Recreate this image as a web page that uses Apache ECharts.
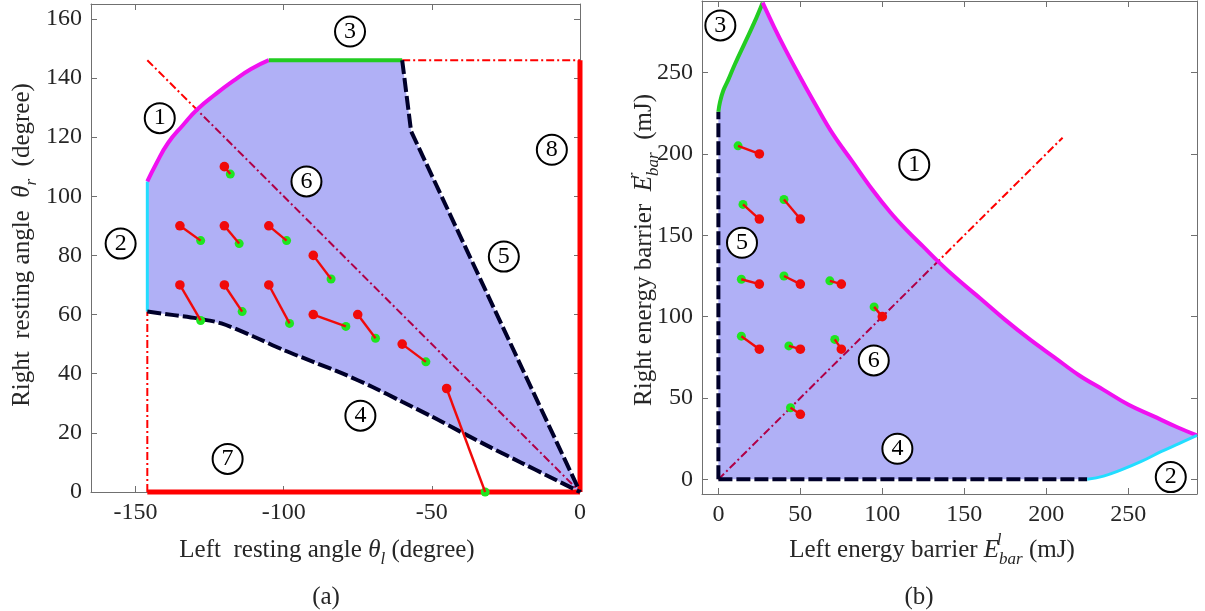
<!DOCTYPE html>
<html>
<head>
<meta charset="utf-8">
<title>resting angle / energy barrier</title>
<script src="https://cdn.jsdelivr.net/npm/echarts@6/dist/echarts.min.js"></script>
<style>
    html, body { margin: 0; padding: 0; background: #fff; }
    #main { width: 1205px; height: 611px; }
</style>
</head>
<body>
<div id="main"></div>
<script>
// ---------- (a) resting angles (degree) ----------
var aXTicks = [-150, -100, -50, 0];
var aYTicks = [0, 20, 40, 60, 80, 100, 120, 140, 160];
var aCurve1 = [[-146, 105], [-143, 111], [-139, 118], [-134, 124], [-129, 129.5], [-123, 134.5], [-117, 139], [-111, 143], [-105, 146]];
var aEdge2 = [[-146, 61], [-146, 105]];
var aEdge3 = [[-105, 146], [-60, 146]];
var aEdge5 = [[-60, 146], [-57, 122], [0, 0]];
var aEdge4 = [[-146, 61], [-137, 59.8], [-128, 58.5], [-121, 57], [-110, 52.5], [-100, 48], [-90, 44], [-80, 40], [-70, 35.5],
              [-60, 30.5], [-50, 25.5], [-40, 20.2], [-30, 15], [-20, 10], [-10, 5], [0, 0]];
var aDiag = [[-146, 146], [0, 0]];
var aFloor = [[-146, 0], [0, 0]];
var aWall = [[0, 0], [0, 146]];
var aCap = [[-60, 146], [0, 146]];
var aSide = [[-146, 0], [-146, 61]];
var aRed = [[-120, 110], [-135, 90], [-120, 90], [-105, 90], [-90, 80], [-135, 70], [-120, 70], [-105, 70], [-90, 60], [-75, 60], [-60, 50], [-45, 35]];
var aGreen = [[-118, 107.5], [-128, 85], [-115, 84], [-99, 85], [-84, 72], [-128, 58], [-114, 61], [-98, 57], [-79, 56], [-69, 52], [-52, 44], [-32, 0]];
var aMarks = [[-141.8, 126.4, '1'], [-155, 84, '2'], [-77.6, 155.7, '3'], [-74.1, 25.8, '4'], [-25.7, 79.6, '5'], [-92.3, 105, '6'], [-118.9, 11.2, '7'], [-9.5, 115.7, '8']];

// ---------- (b) energy barriers (mJ) ----------
var bXTicks = [0, 50, 100, 150, 200, 250];
var bYTicks = [0, 50, 100, 150, 200, 250];
var bCurve3 = [[0, 226], [1, 232], [3, 239], [6, 245.5], [10, 255], [16, 268], [22, 281], [27, 293]];
var bCurve1 = [[27, 293], [34, 278], [41, 264], [50, 247], [60, 229], [70, 212], [82, 195], [94, 178], [105, 164], [115, 153],
               [125, 143], [134, 134], [147, 122], [160, 111], [175, 98], [190, 86], [205, 75], [220, 64], [235, 55],
               [250, 46], [265, 39], [280, 32], [292, 27]];
var bCurve2 = [[225, 0], [235, 2], [245, 5.5], [258, 11], [270, 17], [281, 22], [292, 27]];
var bWall = [[0, 0], [0, 226]];
var bFloor = [[0, 0], [225, 0]];
var bDiag = [[0, 0], [210, 210]];
var bRed = [[25, 200], [25, 160], [50, 160], [25, 120], [50, 120], [75, 120], [100, 100], [25, 80], [50, 80], [75, 80], [50, 40]];
var bGreen = [[12, 205], [15, 169], [40, 172], [14, 123], [40, 125], [68, 122], [95, 106], [14, 88], [43, 82], [71, 86], [44, 44]];
var bMarks = [[119.5, 193.3, '1'], [276, 1.4, '2'], [1.2, 279, '3'], [109.2, 18.8, '4'], [14.4, 145.4, '5'], [94.8, 73.1, '6']];

var FONT = '"Liberation Serif", "Times New Roman", serif';
var AXIS_COLOR = '#707070';
var TEXT_COLOR = '#262626';
var FILL = 'rgba(0, 0, 225, 0.31)';
var NAVY = '#00002a';

// polygons of the shaded regions, built from the edges above
var aFill = aEdge2.concat(aCurve1.slice(1), aEdge3.slice(1), aEdge5.slice(1), aEdge4.slice().reverse().slice(1));
var bFill = [[0, 0]].concat(bCurve3, bCurve1.slice(1), bCurve2.slice().reverse().slice(1));

function pairs(starts, ends) {
    return starts.map(function (p, i) { return [p[0], p[1], ends[i][0], ends[i][1]]; });
}

function axis(grid, min, max, ticks, pos, label) {
    return {
        gridIndex: grid, type: 'value', min: min, max: max, position: pos,
        axisLine: { show: true, onZero: false, lineStyle: { color: AXIS_COLOR, width: 1 } },
        axisTick: { show: true, inside: true, length: 6, customValues: ticks, lineStyle: { color: AXIS_COLOR } },
        axisLabel: { show: label, customValues: ticks, fontFamily: FONT, fontSize: 24, color: TEXT_COLOR, margin: 9 },
        splitLine: { show: false }
    };
}

function edge(grid, data, color, width, type, z, smooth) {
    return {
        type: 'line', xAxisIndex: grid * 2, yAxisIndex: grid * 2, data: data,
        symbol: 'none', clip: false, z: z || 4, silent: true, smooth: smooth || false,
        lineStyle: { color: color, width: width, type: type || 'solid', cap: 'butt' }
    };
}

function area(grid, pts) {
    return {
        type: 'custom', xAxisIndex: grid * 2, yAxisIndex: grid * 2, data: pts, z: 3, silent: true,
        renderItem: function (params, api) {
            if (params.dataIndex !== 0) return;
            return { type: 'polygon', shape: { points: pts.map(function (p) { return api.coord(p); }) }, style: { fill: FILL } };
        }
    };
}

function moves(grid, data) {
    return {
        type: 'custom', xAxisIndex: grid * 2, yAxisIndex: grid * 2, data: data, z: 6, silent: true,
        renderItem: function (params, api) {
            var a = api.coord([api.value(0), api.value(1)]);
            var b = api.coord([api.value(2), api.value(3)]);
            return {
                type: 'group', children: [
                    { type: 'circle', shape: { cx: b[0], cy: b[1], r: 4.5 }, style: { fill: '#1ee61e' } },
                    { type: 'line', shape: { x1: a[0], y1: a[1], x2: b[0], y2: b[1] }, style: { stroke: '#f00a0a', lineWidth: 2.4 } },
                    { type: 'circle', shape: { cx: a[0], cy: a[1], r: 4.8 }, style: { fill: '#f00a0a' } }
                ]
            };
        }
    };
}

function marks(grid, data) {
    return {
        type: 'scatter', xAxisIndex: grid * 2, yAxisIndex: grid * 2, data: data, z: 8, silent: true,
        symbol: 'circle', symbolSize: 30,
        itemStyle: { color: '#fff', borderColor: '#000', borderWidth: 2, opacity: 1 },
        label: { show: true, position: 'inside', formatter: function (p) { return p.value[2]; },
                 fontFamily: FONT, fontSize: 24, color: '#000' }
    };
}

var rich = {
    n: { fontFamily: FONT, fontSize: 25, color: TEXT_COLOR, lineHeight: 36 },
    it: { fontFamily: FONT, fontSize: 25, fontStyle: 'italic', color: TEXT_COLOR, lineHeight: 36 },
    sub: { fontFamily: FONT, fontSize: 17, fontStyle: 'italic', color: TEXT_COLOR, lineHeight: 17, verticalAlign: 'bottom' },
    sup: { fontFamily: FONT, fontSize: 17, fontStyle: 'italic', color: TEXT_COLOR, lineHeight: 17, verticalAlign: 'top', width: 0 }
};

function label(x, y, text, rot) {
    return { type: 'text', x: x, y: y, rotation: rot || 0, silent: true,
             style: { text: text, rich: rich, align: 'center', verticalAlign: 'middle', font: '25px ' + FONT, fill: TEXT_COLOR } };
}

var chart = echarts.init(document.getElementById('main'));
chart.setOption({
    animation: false,
    backgroundColor: '#fff',
    grid: [
        { left: 91, top: 4, width: 489, height: 488, containLabel: false, outerBoundsMode: 'none' },
        { left: 702, top: 1, width: 495, height: 493, containLabel: false, outerBoundsMode: 'none' }
    ],
    xAxis: [
        axis(0, -165, 0, aXTicks, 'bottom', true),
        axis(0, -165, 0, aXTicks, 'top', false),
        axis(1, -10, 292, bXTicks, 'bottom', true),
        axis(1, -10, 292, bXTicks, 'top', false)
    ],
    yAxis: [
        axis(0, 0, 165, aYTicks, 'left', true),
        axis(0, 0, 165, aYTicks, 'right', false),
        axis(1, -9, 294, bYTicks, 'left', true),
        axis(1, -9, 294, bYTicks, 'right', false)
    ],
    graphic: [
        label(22, 245, '{n|Right  resting angle  }{it|θ}{sub|r}{n|  (degree)}', Math.PI / 2),
        label(327, 550, '{n|Left  resting angle }{it|θ}{sub|l}{n| (degree)}'),
        label(326, 597, '{n|(a)}'),
        label(644, 250, '{n|Right energy barrier  }{it|E}{sup|r}{sub|bar}{n|  (mJ)}', Math.PI / 2),
        label(932, 550, '{n|Left energy barrier }{it|E}{sup|l}{sub|bar}{n| (mJ)}'),
        label(919, 597, '{n|(b)}')
    ],
    series: [
        edge(0, aDiag, '#ff0000', 2, [8, 3, 2, 3], 2),
        area(0, aFill),
        edge(0, aSide, '#ff0000', 2, [8, 3, 2, 3]),
        edge(0, aCap, '#ff0000', 2, [8, 3, 2, 3]),
        edge(0, aFloor, '#ff0000', 5),
        edge(0, aWall, '#ff0000', 5),
        edge(0, aEdge2, '#22ddff', 3),
        edge(0, aCurve1, '#f010f0', 4, null, 4, 0.5),
        edge(0, aEdge3, '#22cc22', 4),
        edge(0, aEdge5, NAVY, 4, [14, 4]),
        edge(0, aEdge4, NAVY, 4, [14, 4], 4, 0.3),
        moves(0, pairs(aRed, aGreen)),
        marks(0, aMarks),

        edge(1, bDiag, '#ff0000', 2, [8, 3, 2, 3], 2),
        area(1, bFill),
        edge(1, bWall, NAVY, 4, [14, 4]),
        edge(1, bFloor, NAVY, 4, [14, 4]),
        edge(1, bCurve3, '#22cc22', 4, null, 4, 0.4),
        edge(1, bCurve1, '#f010f0', 4, null, 4, 0.4),
        edge(1, bCurve2, '#22ddff', 3, null, 4, 0.4),
        moves(1, pairs(bRed, bGreen)),
        marks(1, bMarks)
    ]
});
</script>
</body>
</html>
